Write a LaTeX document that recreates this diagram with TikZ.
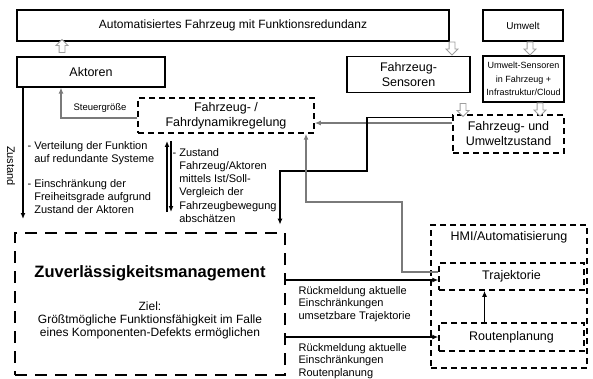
\documentclass[tikz,border=0pt]{standalone}
\usepackage{fontspec}
\setmainfont{Liberation Sans}
\usetikzlibrary{arrows.meta, shapes.arrows}
\definecolor{lgrey}{HTML}{7A7A7A}
\definecolor{hgrey}{HTML}{9E9E9E}
\tikzset{
  every picture/.style={line width=1.2pt},
  box/.style={draw, align=center, inner sep=2pt, font=\fontsize{12.5}{15}\selectfont},
  dbox/.style={box, line width=1.5pt, dash pattern=on 6pt off 4pt},
  hollow/.style={single arrow, draw=hgrey, fill=white, line width=0.8pt, inner sep=2.5pt,
    minimum height=13pt, single arrow head extend=3pt, single arrow head indent=0pt},
  barrow/.style={-{Latex[length=6pt,width=5pt]}, draw=black},
  garrow/.style={-{Latex[length=6pt,width=5pt]}, draw=lgrey},
  note/.style={font=\fontsize{11}{13.3}\selectfont, align=left, inner sep=0pt},
}
\begin{document}
\begin{tikzpicture}[x=1pt, y=-1pt,
  zbox/.style={draw, line width=2.8pt, dash pattern=on 12pt off 8pt},
  small/.style={font=\fontsize{9.5}{11}\selectfont, inner sep=0pt}]
  \useasboundingbox (0,0) rectangle (593,379);
  % top row
  \node[box, minimum width=432pt, minimum height=31pt, font=\fontsize{12}{14}\selectfont] (fzg) at (233,25.5) {Automatisiertes Fahrzeug mit Funktionsredundanz};
  \node[box, minimum width=80pt, minimum height=31pt, font=\fontsize{10}{12}\selectfont] (umwelt) at (523,25.5) {Umwelt};
  \node[box, minimum width=148pt, minimum height=30pt] (aktoren) at (91,72) {Aktoren};
  \node[box, minimum width=123pt, minimum height=36pt] (sensoren) at (408.5,74.5) {Fahrzeug-\\Sensoren};
  \node[box, minimum width=81pt, minimum height=46pt, font=\fontsize{9}{13.3}\selectfont, inner sep=1pt] (usens) at (523.5,79) {Umwelt-Sensoren\\in Fahrzeug +\\Infrastruktur/Cloud};
  \node[dbox, minimum width=176pt, minimum height=35pt] (regelung) at (226,115.5) {Fahrzeug- /\\Fahrdynamikregelung};
  \node[dbox, minimum width=111pt, minimum height=38pt] (zustand) at (508.5,134) {Fahrzeug- und\\Umweltzustand};
  % hollow arrows
  \node[hollow, shape border rotate=90] (up1) at (62,47.5) {};
  \node[hollow, shape border rotate=270] (dn1) at (452,47) {};
  \node[hollow, shape border rotate=270] (dn2) at (530,47) {};
  \node[hollow, shape border rotate=270] (dn3) at (463,108.5) {};
  \node[hollow, shape border rotate=270] (dn4) at (540,108) {};
  % management and HMI
  \node[zbox, minimum width=270pt, minimum height=142pt] (zvm) at (150,304) {};
  \node[font=\bfseries\fontsize{16.5}{19}\selectfont] (zvmtitle) at (150,273) {Zuverlässigkeitsmanagement};
  \node[align=center, inner sep=0pt, font=\fontsize{12}{12.7}\selectfont] (ziel) at (150,320.5) {Ziel:\\Größtmögliche Funktionsfähigkeit im Falle\\eines Komponenten-Defekts ermöglichen};
  \node[dbox, minimum width=156pt, minimum height=143pt] (hmi) at (509,296.5) {};
  \node[font=\fontsize{12.5}{15}\selectfont] (hmititle) at (509,237.5) {HMI/Automatisierung};
  \node[dbox, minimum width=145pt, minimum height=27pt] (traj) at (511.5,276.5) {Trajektorie};
  \node[dbox, minimum width=145pt, minimum height=28pt] (route) at (511.5,337) {Routenplanung};
  % labels
  \node[small] (steuer) at (100,108) {Steuergröße};
  \node[font=\fontsize{11}{13}\selectfont, rotate=-90, inner sep=0pt] (zlabel) at (11,166) {Zustand};
  \node[note, anchor=north west] (funktion) at (27,140.5) {- Verteilung der Funktion\\\hphantom{- }auf redundante Systeme\\[11.7pt]- Einschränkung der\\\hphantom{- }Freiheitsgrade aufgrund\\\hphantom{- }Zustand der Aktoren};
  \node[note, anchor=north west] (schaetzen) at (172,147.5) {- Zustand\\\hphantom{- }Fahrzeug/Aktoren\\\hphantom{- }mittels Ist/Soll-\\\hphantom{- }Vergleich der\\\hphantom{- }Fahrzeugbewegung\\\hphantom{- }abschätzen};
  \node[note, font=\fontsize{11}{12.5}\selectfont, anchor=north west] (rtraj) at (298,285.5) {Rückmeldung aktuelle\\Einschränkungen\\umsetzbare Trajektorie};
  \node[note, font=\fontsize{11}{12.8}\selectfont, anchor=north west] (rroute) at (298,342.5) {Rückmeldung aktuelle\\Einschränkungen\\Routenplanung};
  % connectors
  \coordinate (zend) at (23,219);
  \coordinate (vtop) at (167,141);
  \coordinate (vbot) at (167,212);
  \coordinate (wtop) at (171,141);
  \coordinate (wbot) at (171,212);
  \draw[barrow] ([xshift=-68pt]aktoren.south) -- (zend);
  \draw[garrow] ([yshift=-2.5pt]regelung.west) -| ([xshift=-30pt]aktoren.south);
  \draw[barrow] (vbot) -- (vtop);
  \draw[barrow] (wtop) -- (wbot);
  \draw[garrow] ([yshift=11pt]zustand.west) -- ([yshift=-7.5pt]regelung.east);
  \draw[barrow, shorten >=7pt] ([yshift=-3pt]zustand.north west) -| (367,171) -| ([xshift=130pt]zvm.north);
  \draw[garrow] ([yshift=4.5pt]traj.west) -| (402,202) -| ([xshift=80pt]regelung.south);
  \draw[barrow] ([yshift=-3.5pt]traj.west -| zvm.east) -- ([yshift=-3.5pt]traj.west);
  \draw[barrow] (route.west -| zvm.east) -- (route.west);
  \draw[barrow] ([xshift=-27pt]route.north) -- ([xshift=-27pt]traj.south);
\end{tikzpicture}
\end{document}
